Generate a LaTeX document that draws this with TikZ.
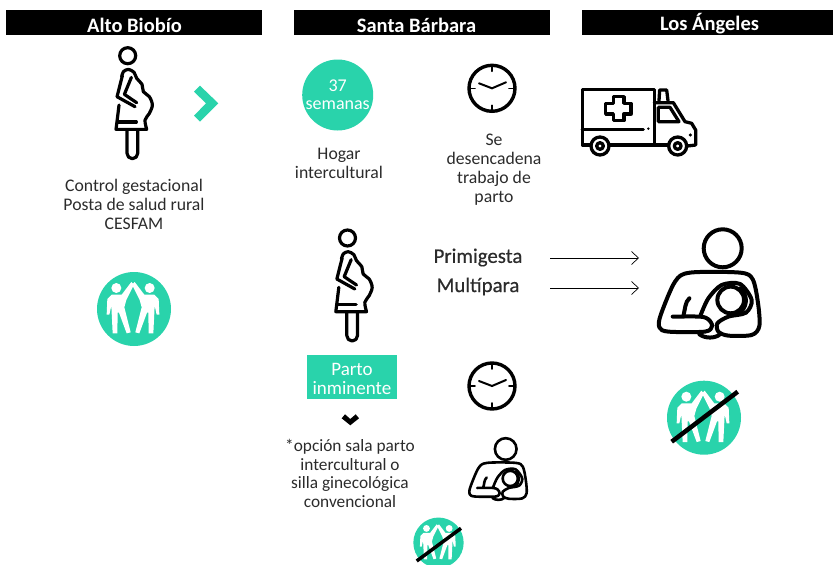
\documentclass[tikz,border=0pt]{standalone}
\usepackage{fontspec}
\setmainfont{Carlito}
\usetikzlibrary{arrows.meta}
\definecolor{teal1}{HTML}{29D3AB}
\definecolor{ink}{HTML}{2B2B2B}
\tikzset{
  headbar/.style={fill=black, minimum height=25pt, inner sep=0pt},
  header/.style={text=white, font=\fontsize{20.5}{22}\selectfont\bfseries, inner sep=0pt},
  label/.style={text=ink, align=center, font=\fontsize{17.7}{19}\selectfont, inner sep=0pt},
  big/.style={text=ink, font=\fontsize{20.8}{22}\selectfont\addfontfeature{FakeBold=0.5}, inner sep=0pt},
  onteal/.style={text=white, align=center, font=\fontsize{18}{18.5}\selectfont, inner sep=0pt},
  pics/pregnant/.style={code={
    \begin{scope}[scale=1/3, shift={(-113,-47)}, line width=3.2pt, line join=round, line cap=round]
      \draw (113,47) circle (24);
      \draw plot[smooth, tension=.55] coordinates {(95,110) (100,95) (115,88) (132,97) (140,115) (156,133) (160,155) (178,170) (187,195) (178,220) (165,240) (170,268)} -- (78,268) -- (87,195);
      \draw (97,107) -- (81,170) -- (135,200) (124,112) -- (103,163) -- (140,188);
      \draw (84,246) -- (139,246);
      \draw (111,270) -- (111,340) arc[start angle=180, end angle=0, radius=16] -- (143,270);
    \end{scope}}},
  pics/clock/.style={code={
    \begin{scope}[line cap=round]
      \draw[line width=3.4pt] (0,0) circle (23);
      \draw[line width=1.6pt] (0,-23) -- (0,-17) (0,23) -- (0,17) (-23,0) -- (-17,0) (23,0) -- (17,0);
      \draw[line width=2pt] (-13,-5) -- (0,0) -- (14,-6);
    \end{scope}}},
  pics/mother/.style={code={
    \begin{scope}[scale=1/3, shift={(-248,-85)}, line width=#1, line join=round, line cap=round]
      \draw (248,85) circle (57);
      \draw plot[smooth, tension=.5] coordinates {(98,290) (180,290) (205,298) (216,318) (195,335) (85,335) (58,322) (62,285) (105,185) (150,158) (300,158) (338,178) (354,250) (358,318) (335,345) (265,347) (235,335) (232,310) (265,290) (318,278) (335,240) (300,192) (245,195) (205,235) (182,285)};
      \draw (148,235) .. controls (135,245) and (135,270) .. (130,288);
      \draw (272,240) circle (40);
      \draw (300,205) .. controls (325,225) and (325,265) .. (290,285);
      \draw (178,343) .. controls (195,356) and (225,356) .. (240,343);
    \end{scope}}},
  pics/friends/.style={code={
    \begin{scope}[scale=1/3, shift={(-135,-135)}]
      \fill[teal1] (135,135) circle (111);
      \foreach \m in {0,1} {
        \begin{scope}[shift={(\m*264,0)}, xscale=1-2*\m]
          \fill[white] (82,72) circle (15);
          \fill[white] (68,92) -- (98,92) -- (127,54) -- (135,62) -- (112,108) -- (106,130) -- (125,205) -- (113,208) -- (90,146) -- (86,146) -- (85,208) -- (71,208) -- (67,125) -- (61,152) -- (53,152) -- (55,105) -- cycle;
        \end{scope}}
    \end{scope}}},
}
\begin{document}
\begin{tikzpicture}[x=1pt, y=-1pt]
    \clip (0,0) rectangle (833,565);

    % Headers
    \node[headbar, minimum width=256pt] (altobar) at (134,22.5) {};
    \node[headbar, minimum width=256pt] (santabar) at (422,22.5) {};
    \node[headbar, minimum width=251pt] (angelesbar) at (707.5,22.5) {};
    \node[header] (alto) at (134.5,25) {Alto Biobío};
    \node[header] (santa) at (416.5,25) {Santa Bárbara};
    \node[header] (angeles) at (709.5,24) {Los Ángeles};

    % Alto Biobio
    \pic at (127.7,55.7) {pregnant};
    \fill[teal1] (194,91.7) -- (200,85.7) -- (218.3,103.3) -- (200,121.7) -- (194,115.7) -- (206,103.3) -- cycle;
    \node[label] (control) at (134,204.5) {Control gestacional\\Posta de salud rural\\CESFAM};
    \pic at (134,309) {friends};

    % Santa Barbara
    \node[circle, fill=teal1, minimum size=71pt, inner sep=0pt] (semanas) at (337.7,95) {};
    \node[onteal] (semanastext) at (337.7,94.5) {37\\semanas};
    \node[label] (hogar) at (339,163) {Hogar\\intercultural};
    \pic at (492,88.3) {clock};
    \node[label] (trabajo) at (494,170) {Se\\desencadena\\trabajo de\\parto};

    \pic at (347.5,238) {pregnant};
    \node[big] (primi) at (478,257.5) {Primigesta};
    \node[big] (multi) at (478,286.5) {Multípara};
    \coordinate (p1) at (550,258); \coordinate (p2) at (639,258);
    \coordinate (m1) at (550,288); \coordinate (m2) at (639,288);
    \draw[-{Straight Barb[length=7pt, width=13pt]}, line width=.7pt] (p1) -- (p2);
    \draw[-{Straight Barb[length=7pt, width=13pt]}, line width=.7pt] (m1) -- (m2);

    \node[fill=teal1, minimum width=90pt, minimum height=44pt, inner sep=0pt] (parto) at (352,377) {};
    \node[onteal, font=\fontsize{19}{19}\selectfont] (partotext) at (352,378.5) {Parto\\inminente};
    \fill[black] (341.7,418.3) -- (345,414.3) -- (350.3,419) -- (355.7,414.3) -- (359,418.3) -- (350.3,425.3) -- cycle;
    \node[label, font=\fontsize{17.3}{18.7}\selectfont] (opcion) at (350,473.5) {*opción sala parto\\intercultural o\\silla ginecológica\\convencional};
    \pic at (492,386) {clock};
    \pic[scale=.57] at (505.7,449) {mother=2.6pt};
    \pic[scale=.68] at (438.5,542.7) {friends};
    \coordinate (s1) at (416.7,561); \coordinate (s2) at (461,528.3);
    \draw[line width=3.5pt] (s1) -- (s2);

    % Los Angeles
    \begin{scope}[shift={(575,80)}, scale=1/3, line width=3.3pt, line join=round, line cap=round]
      \draw (45,195) -- (22,195) -- (22,28) -- (238,28) -- (238,195);
      \draw (105,195) -- (280,195);
      \draw (22,148) -- (205,148);
      \fill (220,146) circle (4);
      \draw (115,50) -- (147,50) -- (147,70) -- (168,70) -- (168,102) -- (147,102) -- (147,122) -- (115,122) -- (115,102) -- (92,102) -- (92,70) -- (115,70) -- cycle;
      \draw (238,68) -- (295,68) -- (330,125) -- (350,130) -- (362,150) -- (362,195) -- (337,198);
      \draw (252,62) -- (254,30) -- (275,30) -- (279,62);
      \draw (250,82) -- (285,82) -- (312,125) -- (250,125) -- cycle;
      \fill (346,165) circle (5);
      \draw (75,198) circle (27) (75,198) circle (10);
      \draw (308,198) circle (27) (308,198) circle (10);
    \end{scope}
    \pic at (722.7,248.3) {mother=4pt};
    \pic at (704,417.7) {friends};
    \coordinate (s3) at (671.7,441.7); \coordinate (s4) at (737.7,391.7);
    \draw[line width=4.5pt] (s3) -- (s4);
\end{tikzpicture}
\end{document}
